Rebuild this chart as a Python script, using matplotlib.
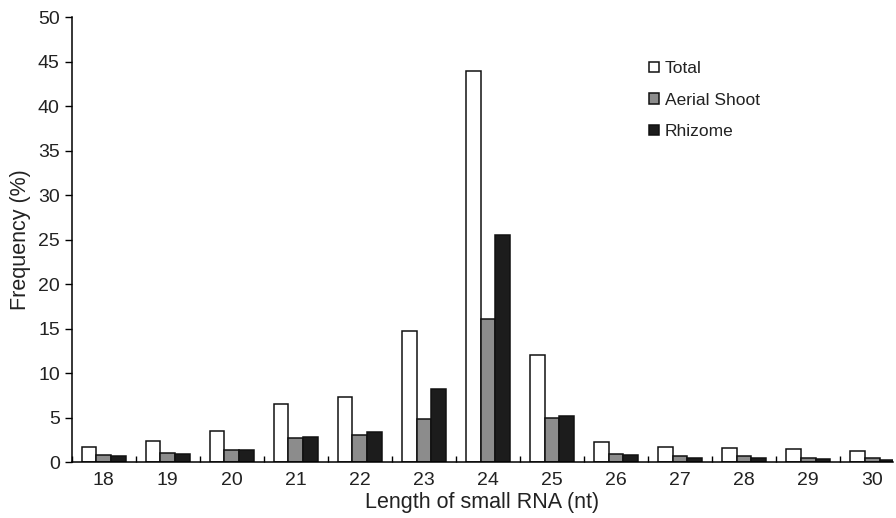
import numpy as np
import matplotlib.pyplot as plt
from matplotlib.ticker import FixedLocator

lengths = ['18', '19', '20', '21', '22', '23', '24', '25', '26', '27', '28', '29', '30']
total = [1.7, 2.4, 3.5, 6.5, 7.3, 14.7, 43.9, 12.0, 2.3, 1.7, 1.55, 1.5, 1.2]
aerial = [0.8, 1.0, 1.35, 2.7, 3.0, 4.8, 16.1, 4.9, 0.95, 0.67, 0.65, 0.5, 0.4]
rhizome = [0.7, 0.95, 1.3, 2.8, 3.4, 8.2, 25.5, 5.2, 0.75, 0.5, 0.4, 0.3, 0.25]

plt.rcParams['font.family'] = ['Liberation Sans', 'DejaVu Sans']

fig = plt.figure(figsize=(8.96, 5.18), dpi=100)
ax = fig.add_axes([0.080, 0.108, 0.917, 0.859])

x = np.arange(len(lengths))
w = 0.23
kw = dict(edgecolor='#111111', linewidth=1.1)
ax.bar(x - w, total, w, color='white', label='Total', **kw)
ax.bar(x, aerial, w, color='#8c8c8c', label='Aerial Shoot', **kw)
ax.bar(x + w, rhizome, w, color='#1c1c1c', label='Rhizome', **kw)

ax.set_xlim(-0.5, 12.33)
ax.set_ylim(0, 50)
ax.set_yticks(np.arange(0, 51, 5))
ax.set_xticks(x)
ax.set_xticklabels(lengths)
ax.xaxis.set_minor_locator(FixedLocator(np.arange(-0.5, 12.5, 1)))
ax.tick_params(axis='x', which='major', length=0, pad=7, labelsize=14, labelcolor='#222222')
ax.tick_params(axis='x', which='minor', direction='in', length=4, width=1)
ax.tick_params(axis='y', direction='out', length=5, width=1, labelsize=14, labelcolor='#222222')

for s in ['top', 'right']:
    ax.spines[s].set_visible(False)
for s in ['left', 'bottom']:
    ax.spines[s].set_linewidth(1.1)

ax.set_xlabel('Length of small RNA (nt)', fontsize=15.5, color='#222222', labelpad=2)
ax.set_ylabel('Frequency (%)', fontsize=15.5, color='#222222', labelpad=5)

ax.legend(loc='upper left', bbox_to_anchor=(0.707, 0.912), bbox_transform=fig.transFigure,
          frameon=False, handlelength=0.55, handleheight=0.55, handletextpad=0.35,
          labelspacing=0.95, fontsize=12.5, labelcolor='#222222')

fig.savefig('out.png', dpi=100)
